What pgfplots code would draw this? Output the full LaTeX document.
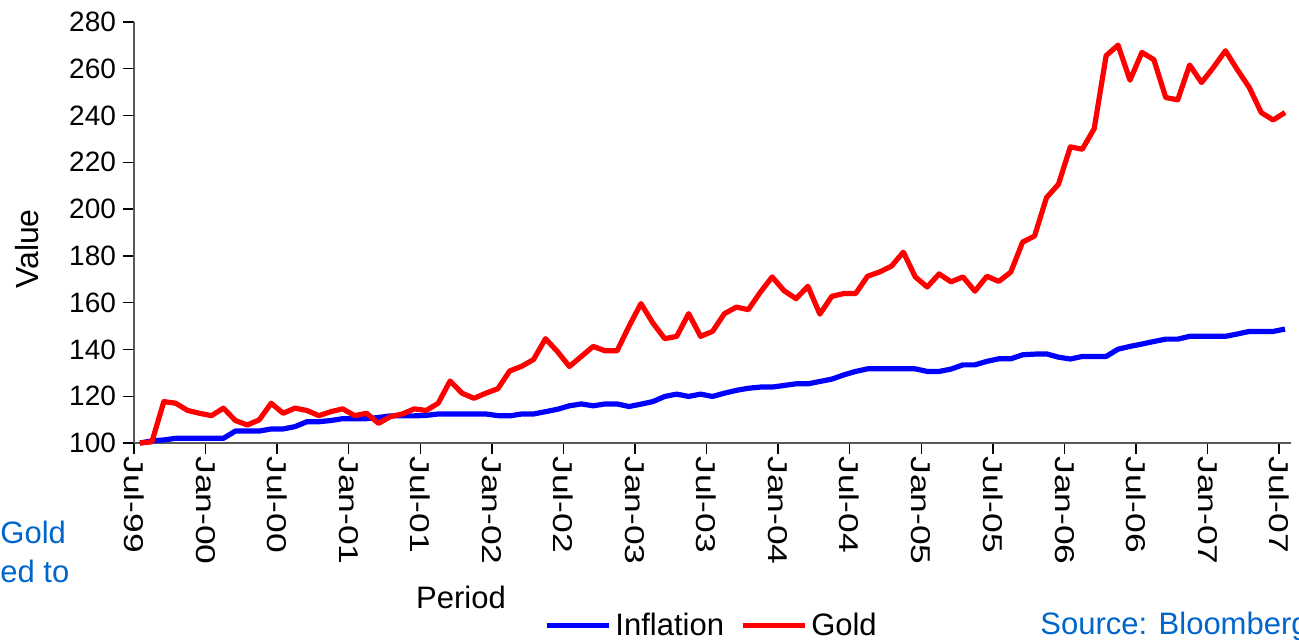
\documentclass[border=0pt]{standalone}
\usepackage{pgfplots}
\pgfplotsset{compat=1.18}
\usepackage{pgfplotstable}
\usepackage{graphicx}
\usepackage{fontspec}
\setmainfont{Liberation Sans}
\definecolor{txtblue}{RGB}{0,102,204}
\newcommand{\XL}[1]{\scalebox{1.3}[1]{#1}}

\pgfplotstableread{
m infl gold
0 100 100
1 100.9 100.5
2 101.3 117.7
3 102 117
4 102 113.9
5 102 112.7
6 102 111.7
7 102 114.9
8 105.1 109.6
9 105.1 107.7
10 105.1 109.9
11 106 117
12 106 112.7
13 107 114.9
14 109.1 113.9
15 109.1 111.7
16 109.6 113.4
17 110.4 114.6
18 110.4 111.7
19 110.4 112.7
20 110.9 108.4
21 111.6 111.3
22 111.6 112.4
23 111.6 114.6
24 111.8 113.9
25 112.4 117
26 112.4 126.5
27 112.4 121.3
28 112.4 119.1
29 112.4 121.3
30 111.7 123.2
31 111.6 130.8
32 112.4 132.8
33 112.4 135.7
34 113.4 144.6
35 114.4 139.1
36 115.9 132.7
37 116.7 137
38 115.9 141.3
39 116.7 139.4
40 116.7 139.4
41 115.6 149.9
42 116.6 159.6
43 117.7 151.3
44 119.9 144.6
45 120.9 145.6
46 119.9 155.3
47 120.9 145.6
48 119.9 147.7
49 121.3 155.3
50 122.5 158.1
51 123.4 157
52 123.9 164.4
53 123.9 171
54 124.6 165.1
55 125.3 161.7
56 125.3 167
57 126.3 155.1
58 127.3 162.7
59 129.1 163.9
60 130.6 163.9
61 131.7 171.3
62 131.7 173.1
63 131.7 175.6
64 131.7 181.6
65 131.7 171
66 130.6 166.7
67 130.6 172.3
68 131.6 168.9
69 133.4 171
70 133.4 164.9
71 134.9 171.3
72 136 169.1
73 136 173
74 137.7 185.9
75 138 188.5
76 138.1 204.9
77 136.7 210.6
78 135.9 226.6
79 137 225.6
80 137 234.4
81 137 265.6
82 140.1 270.1
83 141.3 255.1
84 142.3 267
85 143.4 263.9
86 144.4 247.7
87 144.4 246.7
88 145.6 261.6
89 145.6 254.1
90 145.6 260.6
91 145.6 267.7
92 146.6 259.6
93 147.7 252
94 147.7 241.3
95 147.7 238.1
96 148.7 241.3
}\datatable

\begin{document}
\begin{tikzpicture}
\path[use as bounding box] (0,0) rectangle (649.5pt,320pt);
\begin{axis}[
  at={(67pt,98.5pt)}, anchor=south west,
  scale only axis, width=578.5pt, height=210.5pt,
  xmin=-0.5, xmax=96.5, ymin=100, ymax=280,
  clip=false,
  axis x line=bottom, axis y line=left,
  axis line style={-, black!65, line width=0.7pt},
  xtick={-0.5,5.5,...,95.5},
  xticklabels={\XL{Jul-99},\XL{Jan-00},\XL{Jul-00},\XL{Jan-01},\XL{Jul-01},\XL{Jan-02},\XL{Jul-02},\XL{Jan-03},\XL{Jul-03},\XL{Jan-04},\XL{Jul-04},\XL{Jan-05},\XL{Jul-05},\XL{Jan-06},\XL{Jul-06},\XL{Jan-07},\XL{Jul-07}},
  ytick={100,120,...,280},
  tick align=outside, major tick length=5.5pt,
  tick style={black, line width=0.7pt},
  xticklabel style={rotate=-90, anchor=west, inner sep=1pt, font=\fontsize{13.6}{16}\selectfont},
  yticklabel style={font=\fontsize{14}{16}\selectfont},
  /pgf/number format/assume math mode=true,
  legend style={at={(0.5,-0.433)}, anchor=center, draw=none, fill=none,
    legend columns=2, font=\fontsize{15.5}{18}\selectfont,
    /tikz/every even column/.append style={column sep=6pt},
    inner sep=0pt},
  legend image code/.code={\draw[#1] (0pt,0pt) -- (31pt,0pt);},
]
\addplot[blue, line width=2.6pt, line join=round] table[x=m,y=infl]{\datatable};
\addlegendentry{Inflation}
\addplot[red, line width=2.6pt, line join=round] table[x=m,y=gold]{\datatable};
\addlegendentry{Gold}
\end{axis}
\node[font=\fontsize{15.5}{18}\selectfont] at (230.5pt,21.5pt) {Period};
\node[rotate=90, font=\fontsize{16}{18}\selectfont] at (13.5pt,195.5pt) {Value};
\node[anchor=west, inner sep=0pt, text=txtblue, font=\fontsize{15.5}{18}\selectfont] at (0pt,54pt) {Gold};
\node[anchor=west, inner sep=0pt, text=txtblue, font=\fontsize{15.5}{18}\selectfont] at (0pt,34.5pt) {ed to};
\node[anchor=west, inner sep=0pt, text=txtblue, font=\fontsize{15.5}{18}\selectfont] at (520pt,7pt) {Source: Bloomberg};
\end{tikzpicture}
\end{document}
